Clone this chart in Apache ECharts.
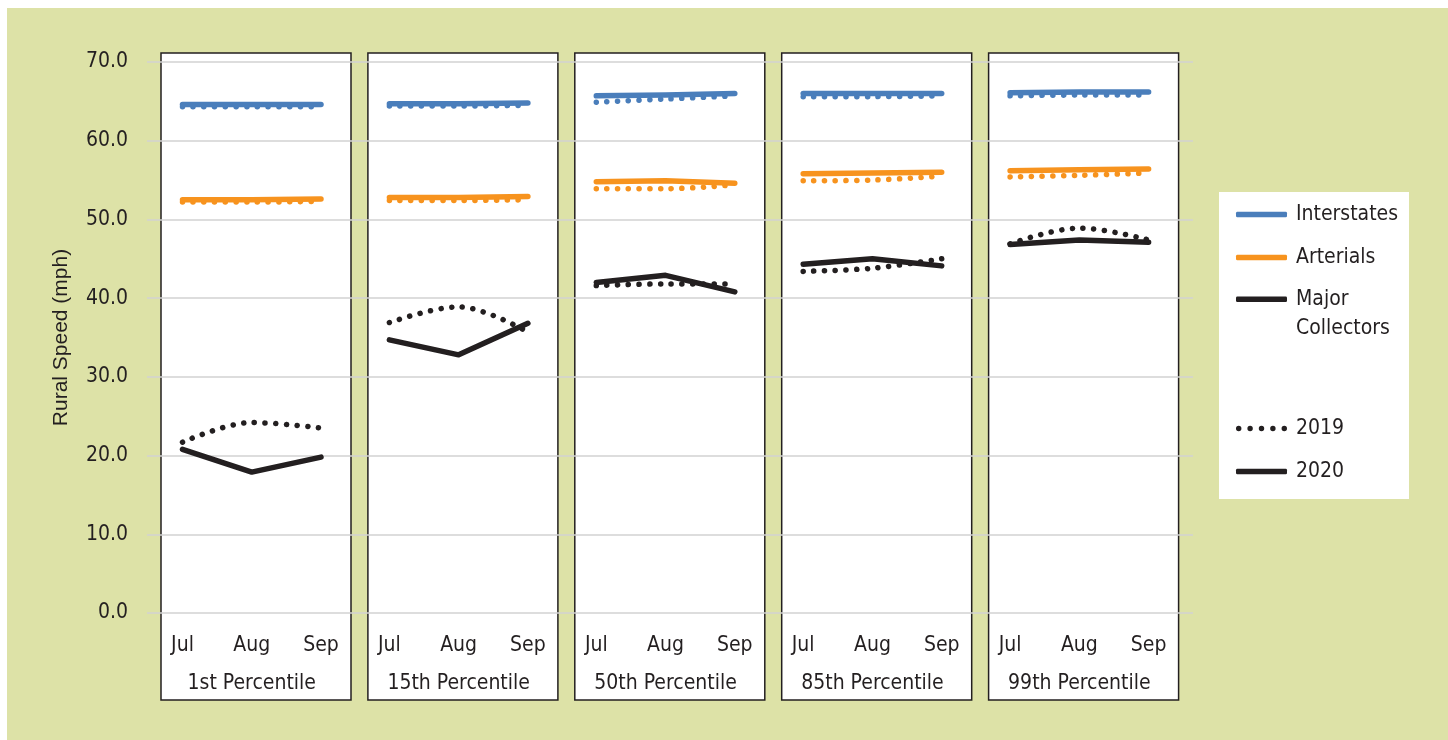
<!DOCTYPE html>
<html><head><meta charset="utf-8">
<script src="https://cdn.jsdelivr.net/npm/echarts@6/dist/echarts.min.js"></script>
<style>html,body{margin:0;padding:0;background:#fff}#c{width:1448px;height:740px}</style>
</head><body><div id="c"></div><script>
// ---- data ----
const months = ['Jul', 'Aug', 'Sep'];
const panels = ['1st Percentile', '15th Percentile', '50th Percentile', '85th Percentile', '99th Percentile'];
const classes = ['Interstates', 'Arterials', 'Major Collectors'];
const years = ['2019', '2020'];
const yTickMin = 0, yTickMax = 70, yTickStep = 10;

const interstates2019 = [[64.3, 64.3, 64.3], [64.4, 64.4, 64.5], [64.9, 65.3, 65.7], [65.6, 65.6, 65.7], [65.7, 65.8, 65.8]];
const interstates2020 = [[64.6, 64.6, 64.6], [64.7, 64.7, 64.8], [65.7, 65.8, 66.0], [66.0, 66.0, 66.0], [66.1, 66.2, 66.2]];
const arterials2019   = [[52.2, 52.2, 52.3], [52.4, 52.4, 52.5], [53.9, 53.9, 54.4], [54.9, 55.0, 55.5], [55.4, 55.6, 55.9]];
const arterials2020   = [[52.5, 52.5, 52.6], [52.8, 52.8, 52.9], [54.8, 54.9, 54.6], [55.8, 55.9, 56.0], [56.2, 56.3, 56.4]];
const collectors2019  = [[21.7, 24.2, 23.5], [36.9, 38.9, 35.7], [41.6, 41.8, 41.8], [43.4, 43.8, 45.0], [46.9, 48.9, 47.4]];
const collectors2020  = [[20.8, 17.9, 19.8], [34.7, 32.8, 36.8], [42.0, 42.9, 40.8], [44.3, 45.0, 44.1], [46.8, 47.4, 47.1]];

// ---- styles / layout ----
const GREEN = '#dde2a7', INK = '#231f20';
const COLORS = { 'Interstates': '#4a7ebb', 'Arterials': '#f7931e', 'Major Collectors': INK };
const FONT = '"DejaVu Sans Condensed", "Liberation Sans Narrow", sans-serif';
const FS = 21;
const DOTTED = [0.1, 10.6];
const PANEL_X0 = 161, PANEL_STEP = 206.9, PANEL_W = 190, PANEL_TOP = 53, PANEL_BOTTOM = 700;
const PLOT_TOP = 62, PLOT_BOTTOM = 613;

const dataBy = {
  'Interstates': { '2019': interstates2019, '2020': interstates2020 },
  'Arterials': { '2019': arterials2019, '2020': arterials2020 },
  'Major Collectors': { '2019': collectors2019, '2020': collectors2020 }
};

const grids = [{ left: 147, right: 1448 - 1193, top: PLOT_TOP, bottom: 740 - PLOT_BOTTOM }];
const xAxes = [{ gridIndex: 0, type: 'value', show: false }];
const yAxes = [{
  gridIndex: 0, type: 'value', min: yTickMin, max: yTickMax, interval: yTickStep, z: 3,
  axisLine: { show: false }, axisTick: { show: false },
  axisLabel: { formatter: v => v.toFixed(1), fontSize: FS, color: INK, margin: 19, fontFamily: FONT },
  splitLine: { lineStyle: { color: '#d2d2d2', width: 1.5 } },
  name: 'Rural Speed (mph)', nameLocation: 'middle', nameGap: 75,
  nameTextStyle: { fontSize: 21, color: INK, fontFamily: '"Liberation Sans", Arial, sans-serif' }
}];
const series = [];
const graphics = [
  { type: 'rect', shape: { x: 7, y: 8, width: 1441, height: 732 }, style: { fill: GREEN }, z: -10, silent: true },
  { type: 'rect', shape: { x: 1219, y: 192, width: 190, height: 307 }, style: { fill: '#fff' }, z: -5, silent: true }
];

panels.forEach((p, i) => {
  const px = PANEL_X0 + i * PANEL_STEP;
  graphics.push({ type: 'rect', shape: { x: px, y: PANEL_TOP, width: PANEL_W, height: PANEL_BOTTOM - PANEL_TOP },
    style: { fill: '#fff', stroke: INK, lineWidth: 1.5 }, z: -5, silent: true });
  grids.push({ left: px + 21.5, width: 138.5, top: PLOT_TOP, bottom: 740 - PLOT_BOTTOM });
  xAxes.push({
    gridIndex: i + 1, type: 'category', data: months, boundaryGap: false,
    axisLine: { show: false }, axisTick: { show: false }, splitLine: { show: false },
    axisLabel: { fontSize: FS, color: INK, margin: 22, fontFamily: FONT, interval: 0 },
    name: p, nameLocation: 'middle', nameGap: 60,
    nameTextStyle: { fontSize: FS, color: INK, fontFamily: FONT }
  });
  yAxes.push({ gridIndex: i + 1, type: 'value', min: yTickMin, max: yTickMax, interval: yTickStep, show: false, splitLine: { show: false } });
  classes.forEach(c => {
    years.forEach(yr => {
      series.push({
        type: 'line', name: p + ' ' + c + ' ' + yr, xAxisIndex: i + 1, yAxisIndex: i + 1,
        data: dataBy[c][yr][i], symbol: 'none', smooth: yr === '2019' ? 0.35 : false,
        lineStyle: { color: COLORS[c], width: 5.5, type: yr === '2019' ? DOTTED : 'solid', cap: 'round', join: 'round' },
        z: 5, silent: true
      });
    });
  });
});

// legend-only series
classes.concat(years).forEach(n => {
  series.push({ type: 'line', name: n, xAxisIndex: 0, yAxisIndex: 0, data: [], symbol: 'none',
    color: COLORS[n] || INK, lineStyle: { color: COLORS[n] || INK } });
});

// dotted legend icon: five dots
let dotPath = 'path://';
for (let k = 0; k < 5; k++) {
  const cx = 1 + k * 4.2;
  dotPath += `M${cx - 1},1a1,1 0 1,0 2,0a1,1 0 1,0 -2,0Z `;
}
const legendBase = {
  orient: 'vertical', left: 1236, padding: 0, itemWidth: 51, itemHeight: 5.5, itemGap: 14,
  selectedMode: false,
  textStyle: { fontSize: FS, lineHeight: 29, color: INK, fontFamily: FONT, padding: [0, 0, 0, 4] }
};
const legends = [
  Object.assign({}, legendBase, { top: 200, data: [{ name: 'Interstates', icon: 'roundRect' }, { name: 'Arterials', icon: 'roundRect' }] }),
  Object.assign({}, legendBase, { top: 255.8, formatter: () => ' \nMajor\nCollectors',
    data: [{ name: 'Major Collectors', icon: 'roundRect' }] }),
  Object.assign({}, legendBase, { top: 414, data: [{ name: '2019', icon: dotPath }, { name: '2020', icon: 'roundRect' }] })
];

const chart = echarts.init(document.getElementById('c'), null, { renderer: 'canvas' });
chart.setOption({
  backgroundColor: '#fff',
  animation: false,
  graphic: graphics,
  grid: grids,
  xAxis: xAxes,
  yAxis: yAxes,
  legend: legends,
  series: series
});
</script></body></html>
